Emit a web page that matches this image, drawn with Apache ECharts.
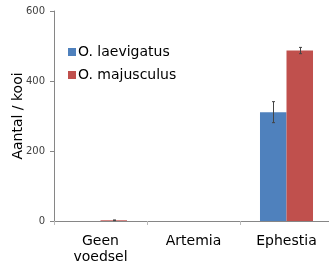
<!DOCTYPE html>
<html>
<head>
<meta charset="utf-8">
<script src="https://cdn.jsdelivr.net/npm/echarts@6/dist/echarts.min.js"></script>
<style>
  html, body { margin: 0; padding: 0; background: #fff; }
  #chart { width: 329px; height: 265px; }
</style>
</head>
<body>
<div id="chart"></div>
<script>
const categories = ['Geen\nvoedsel', 'Artemia', 'Ephestia']
const seriesNames = ['O. laevigatus', 'O. majusculus']
const laevigatus = [0, 0, 311]
const laevigatusErr = [0, 0, 30]
const majusculus = [2, 0, 487]
const majusculusErr = [1, 0, 9]
const yTicks = [0, 200, 400, 600]

const colors = ['#4f81bd', '#c0504d']
const CATEGORY_GAP = 0.43

const errorSeries = (values, errs, idx) => ({
  type: 'custom',
  silent: true,
  z: 5,
  data: values.map((v, i) => [i, v, errs[i]]),
  renderItem: (params, api) => {
    const i = api.value(0)
    const v = api.value(1)
    const e = api.value(2)
    if (!e) return null
    const band = api.size([1, 0])[0]
    const barW = band * (1 - CATEGORY_GAP) / 2
    const center = api.coord([i, v])[0]
    const x = Math.round(center + (idx === 0 ? -barW / 2 : barW / 2)) + 0.5
    const top = api.coord([i, v + e])[1]
    const bot = api.coord([i, v - e])[1]
    const style = { stroke: '#444', lineWidth: 1 }
    return {
      type: 'group',
      children: [
        { type: 'line', shape: { x1: x, y1: top, x2: x, y2: bot }, style },
        { type: 'line', shape: { x1: x - 1.5, y1: top, x2: x + 1.5, y2: top }, style },
        { type: 'line', shape: { x1: x - 1.5, y1: bot, x2: x + 1.5, y2: bot }, style },
      ],
    }
  },
})

const chart = echarts.init(document.getElementById('chart'))
chart.setOption({
  animation: false,
  color: colors,
  textStyle: { fontFamily: 'DejaVu Sans' },
  grid: { left: 54, right: -4, top: 11, bottom: 44, containLabel: false, outerBoundsMode: 'none' },
  legend: {
    left: 63,
    top: 40,
    orient: 'vertical',
    itemWidth: 8,
    itemHeight: 8,
    itemGap: 9,
    icon: 'rect',
    data: seriesNames,
    textStyle: { fontSize: 14, color: '#000', fontFamily: 'DejaVu Sans', padding: [0, 0, 0, -3] },
  },
  xAxis: {
    type: 'category',
    data: categories,
    axisLine: { lineStyle: { color: '#868686' } },
    axisTick: { show: true, alignWithLabel: false, length: 4, lineStyle: { color: '#bbb' } },
    axisLabel: { fontSize: 14, color: '#000', lineHeight: 16, margin: 12, interval: 0 },
  },
  yAxis: {
    type: 'value',
    min: yTicks[0],
    max: yTicks[yTicks.length - 1],
    interval: 200,
    name: 'Aantal / kooi',
    nameLocation: 'middle',
    nameGap: 29,
    nameMoveOverlap: false,
    nameTextStyle: { fontSize: 14, color: '#000' },
    axisLine: { show: true, lineStyle: { color: '#868686' } },
    axisTick: { show: true, length: 4, lineStyle: { color: '#868686' } },
    splitLine: { show: false },
    axisLabel: { fontSize: 10, color: '#404040', margin: 9 },
  },
  series: [
    { name: seriesNames[0], type: 'bar', data: laevigatus, barGap: '0%', barCategoryGap: '43%' },
    { name: seriesNames[1], type: 'bar', data: majusculus, barGap: '0%', barCategoryGap: '43%' },
    errorSeries(laevigatus, laevigatusErr, 0),
    errorSeries(majusculus, majusculusErr, 1),
  ],
})
</script>
</body>
</html>
